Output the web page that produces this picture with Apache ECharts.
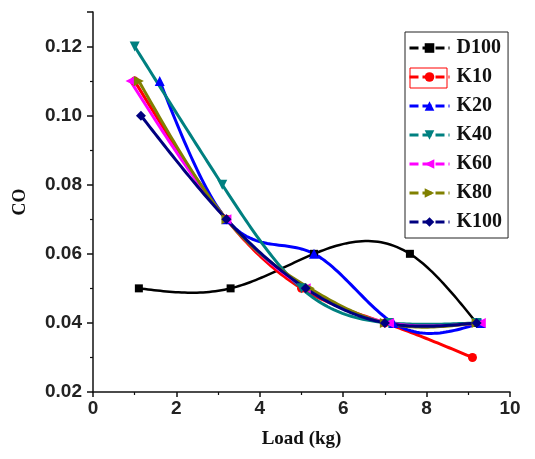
<!DOCTYPE html>
<html>
<head>
<meta charset="utf-8">
<script src="https://cdn.jsdelivr.net/npm/echarts@6/dist/echarts.min.js"></script>
<style>html,body{margin:0;padding:0;background:#fff;}#c{width:535px;height:459px;}</style>
</head>
<body>
<div id="c"></div>
<script>
// Data
const seriesNames = ['D100', 'K10', 'K20', 'K40', 'K60', 'K80', 'K100'];
const d100X = [1.1, 3.3, 5.3, 7.6, 9.2];
const d100Y = [0.05, 0.05, 0.06, 0.06, 0.04];
const k10X = [1.0, 3.2, 5.0, 7.0, 9.1];
const k10Y = [0.11, 0.07, 0.05, 0.04, 0.03];
const k20X = [1.6, 3.2, 5.3, 7.2, 9.3];
const k20Y = [0.11, 0.07, 0.06, 0.04, 0.04];
const k40X = [1.0, 3.1, 5.0, 7.1, 9.2];
const k40Y = [0.12, 0.08, 0.05, 0.04, 0.04];
const k60X = [0.9, 3.2, 5.1, 7.1, 9.3];
const k60Y = [0.11, 0.07, 0.05, 0.04, 0.04];
const k80X = [1.1, 3.2, 5.2, 7.0, 9.2];
const k80Y = [0.11, 0.07, 0.05, 0.04, 0.04];
const k100X = [1.15, 3.2, 5.1, 7.0, 9.2];
const k100Y = [0.10, 0.07, 0.05, 0.04, 0.04];
const xTicks = [0, 2, 4, 6, 8, 10];
const yTicks = [0.02, 0.04, 0.06, 0.08, 0.10, 0.12];

const xs = [d100X, k10X, k20X, k40X, k60X, k80X, k100X];
const ys = [d100Y, k10Y, k20Y, k40Y, k60Y, k80Y, k100Y];
const colors = ['#000000', '#ff0000', '#0000ff', '#008080', '#ff00ff', '#808000', '#000080'];
const symbols = ['rect', 'circle', 'triangle',
  'path://M0,0 L10,0 L5,10 Z',
  'path://M10,0 L10,10 L0,5 Z',
  'path://M0,0 L10,5 L0,10 Z',
  'diamond'];
const sizes = [8, 9, 10, 10, 10, 10, 10];

// natural cubic spline second derivatives (rendering helper for the connecting curve)
function splineM(x, y) {
  const n = x.length, m = new Array(n).fill(0);
  if (n < 3) return m;
  const a = [], b = [], c = [], d = [];
  for (let i = 1; i < n - 1; i++) {
    const h0 = x[i] - x[i - 1], h1 = x[i + 1] - x[i];
    a.push(h0); b.push(2 * (h0 + h1)); c.push(h1);
    d.push(6 * ((y[i + 1] - y[i]) / h1 - (y[i] - y[i - 1]) / h0));
  }
  const k = b.length;
  for (let i = 1; i < k; i++) {
    const w = a[i] / b[i - 1];
    b[i] -= w * c[i - 1]; d[i] -= w * d[i - 1];
  }
  const s = new Array(k);
  s[k - 1] = d[k - 1] / b[k - 1];
  for (let i = k - 2; i >= 0; i--) s[i] = (d[i] - c[i] * s[i + 1]) / b[i];
  for (let i = 0; i < k; i++) m[i + 1] = s[i];
  return m;
}
function splineAt(x, y, m, i, t) {
  const h = x[i + 1] - x[i];
  const u = x[i + 1] - t, v = t - x[i];
  return m[i] * u * u * u / (6 * h) + m[i + 1] * v * v * v / (6 * h)
    + (y[i] / h - m[i] * h / 6) * u + (y[i + 1] / h - m[i + 1] * h / 6) * v;
}

const chart = echarts.init(document.getElementById('c'), null, {renderer: 'canvas'});
const series = [];
seriesNames.forEach((n, si) => {
  const X = xs[si], Y = ys[si], M = splineM(X, Y);
  series.push({
    name: n + '_curve',
    type: 'custom',
    data: X.map((x, j) => [x, Y[j]]),
    z: 2 + si,
    silent: true,
    renderItem: (params, api) => {
      const i = params.dataIndex;
      if (i >= X.length - 1) return null;
      const pts = [];
      const N = 30;
      for (let k = 0; k <= N; k++) {
        const t = X[i] + (X[i + 1] - X[i]) * k / N;
        pts.push(api.coord([t, splineAt(X, Y, M, i, t)]));
      }
      return {
        type: 'polyline',
        shape: {points: pts},
        style: {fill: null, stroke: colors[si], lineWidth: si === 0 ? 2.5 : 3}
      };
    }
  });
});
seriesNames.forEach((n, si) => {
  series.push({
    name: n,
    type: 'line',
    data: xs[si].map((x, j) => [x, ys[si][j]]),
    symbol: symbols[si],
    symbolSize: sizes[si],
    showAllSymbol: true,
    lineStyle: {color: colors[si], width: 3, opacity: 0},
    itemStyle: {color: colors[si]},
    emphasis: {disabled: true},
    z: 20 + si
  });
});

chart.setOption({
  animation: false,
  backgroundColor: '#fff',
  grid: {left: 93, right: 25, top: 12, bottom: 67},
  xAxis: {
    type: 'value', min: 0, max: 10, interval: 2,
    name: 'Load (kg)', nameLocation: 'middle', nameGap: 38,
    nameTextStyle: {fontFamily: 'Liberation Serif', fontWeight: 'bold', fontSize: 19, color: '#111'},
    axisLine: {show: true, lineStyle: {color: '#111', width: 1.5}},
    axisTick: {show: true, length: 5, lineStyle: {color: '#111', width: 1.5}},
    minorTick: {show: true, splitNumber: 2, length: 3, lineStyle: {color: '#111', width: 1.2}},
    splitLine: {show: false},
    axisLabel: {fontFamily: 'Liberation Sans', fontWeight: 'bold', fontSize: 19, color: '#222', margin: 7,
      formatter: v => xTicks.includes(v) ? String(v) : ''}
  },
  yAxis: {
    type: 'value', min: 0.02, max: 0.13, interval: 0.02,
    name: 'CO', nameLocation: 'middle', nameGap: 64, nameRotate: 90,
    nameTextStyle: {fontFamily: 'Liberation Serif', fontWeight: 'bold', fontSize: 18, color: '#111'},
    axisLine: {show: true, lineStyle: {color: '#111', width: 1.5}},
    axisTick: {show: true, length: 6, lineStyle: {color: '#111', width: 1.5}},
    minorTick: {show: true, splitNumber: 2, length: 3, lineStyle: {color: '#111', width: 1.2}},
    splitLine: {show: false},
    axisLabel: {fontFamily: 'Liberation Sans', fontWeight: 'bold', fontSize: 19, color: '#222', margin: 11,
      showMaxLabel: false,
      formatter: v => {
        const t = yTicks.find(y => Math.abs(y - v) < 1e-9);
        return t !== undefined ? t.toFixed(2) : '';
      }}
  },
  legend: {
    left: 405, top: 32, orient: 'vertical',
    data: seriesNames,
    itemWidth: 40, itemHeight: 12, itemGap: 9,
    padding: [6, 6, 6, 3],
    borderColor: '#222', borderWidth: 1,
    backgroundColor: '#fff',
    lineStyle: {type: [9, 4], width: 3, opacity: 1},
    textStyle: {fontFamily: 'Liberation Serif', fontWeight: 'bold', fontSize: 20, color: '#111', padding: [0, 0, 0, 2]},
    selectedMode: false
  },
  graphic: [{
    type: 'rect', z: 100,
    shape: {x: 410, y: 68, width: 37, height: 20},
    style: {fill: 'none', stroke: '#ff0000', lineWidth: 1}
  }],
  series: series
});
</script>
</body>
</html>
